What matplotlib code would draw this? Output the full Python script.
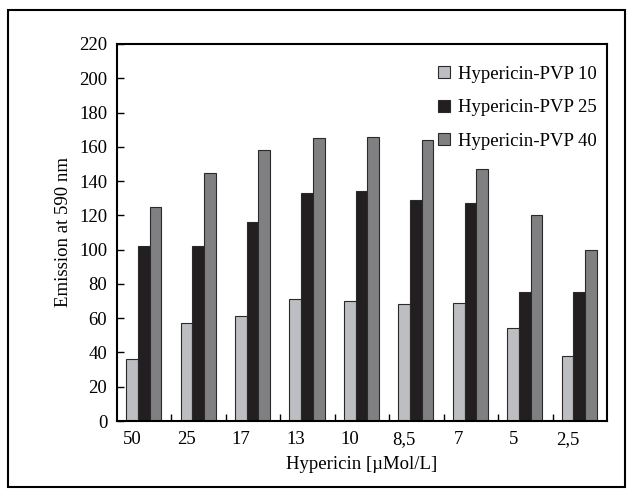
import numpy as np
import matplotlib.pyplot as plt
from matplotlib.patches import Rectangle

plt.rcParams['font.family'] = 'Liberation Serif'

labels = ['50', '25', '17', '13', '10', '8,5', '7', '5', '2,5']
pvp10 = [36, 57, 61, 71, 70, 68, 69, 54, 38]
pvp25 = [102, 102, 116, 133, 134, 129, 127, 75, 75]
pvp40 = [125, 145, 158, 165, 166, 164, 147, 120, 100]
series_names = ['Hypericin-PVP 10', 'Hypericin-PVP 25', 'Hypericin-PVP 40']

fig = plt.figure(figsize=(6.34, 4.97), dpi=100)
ax = fig.add_axes([0.1845, 0.1529, 0.7729, 0.7586])

# outer frame
fig.patches.append(Rectangle((8 / 634, 10 / 497), 617 / 634, 477 / 497, transform=fig.transFigure,
                             fill=False, edgecolor='black', linewidth=1.5))

x = np.arange(len(labels))
w = 0.215
colors = ['#bdbec2', '#231f20', '#808083']
for k, (vals, c, name) in enumerate(zip([pvp10, pvp25, pvp40], colors, series_names)):
    ax.bar(x + k * w, vals, w, color=c, edgecolor='#2a2a2a', linewidth=0.8, label=name)

fs = 13.5
ax.set_xlim(-0.276, 8.724)
ax.set_ylim(0, 220)
ax.set_yticks(range(0, 221, 20))
ax.set_xticks(x)
ax.set_xticklabels(labels, fontsize=fs)
ax.set_xticks(x[:-1] + 0.724, minor=True)
ax.tick_params(axis='x', which='major', length=0, pad=7)
ax.tick_params(axis='x', which='minor', direction='in', length=5, width=1)
ax.tick_params(axis='y', direction='in', length=5, width=1, labelsize=fs, pad=7)
for s in ax.spines.values():
    s.set_linewidth(1.5)

ax.set_ylabel('Emission at 590 nm', fontsize=fs, labelpad=5)
ax.set_xlabel('Hypericin [µMol/L]', fontsize=fs, labelpad=6)

ax.legend(loc='upper right', frameon=False, fontsize=fs, handlelength=0.6, handleheight=0.6,
          handletextpad=0.45, labelspacing=0.88, borderaxespad=0.3,
          bbox_to_anchor=(1.006, 0.977))

fig.savefig('out.png', dpi=100)
